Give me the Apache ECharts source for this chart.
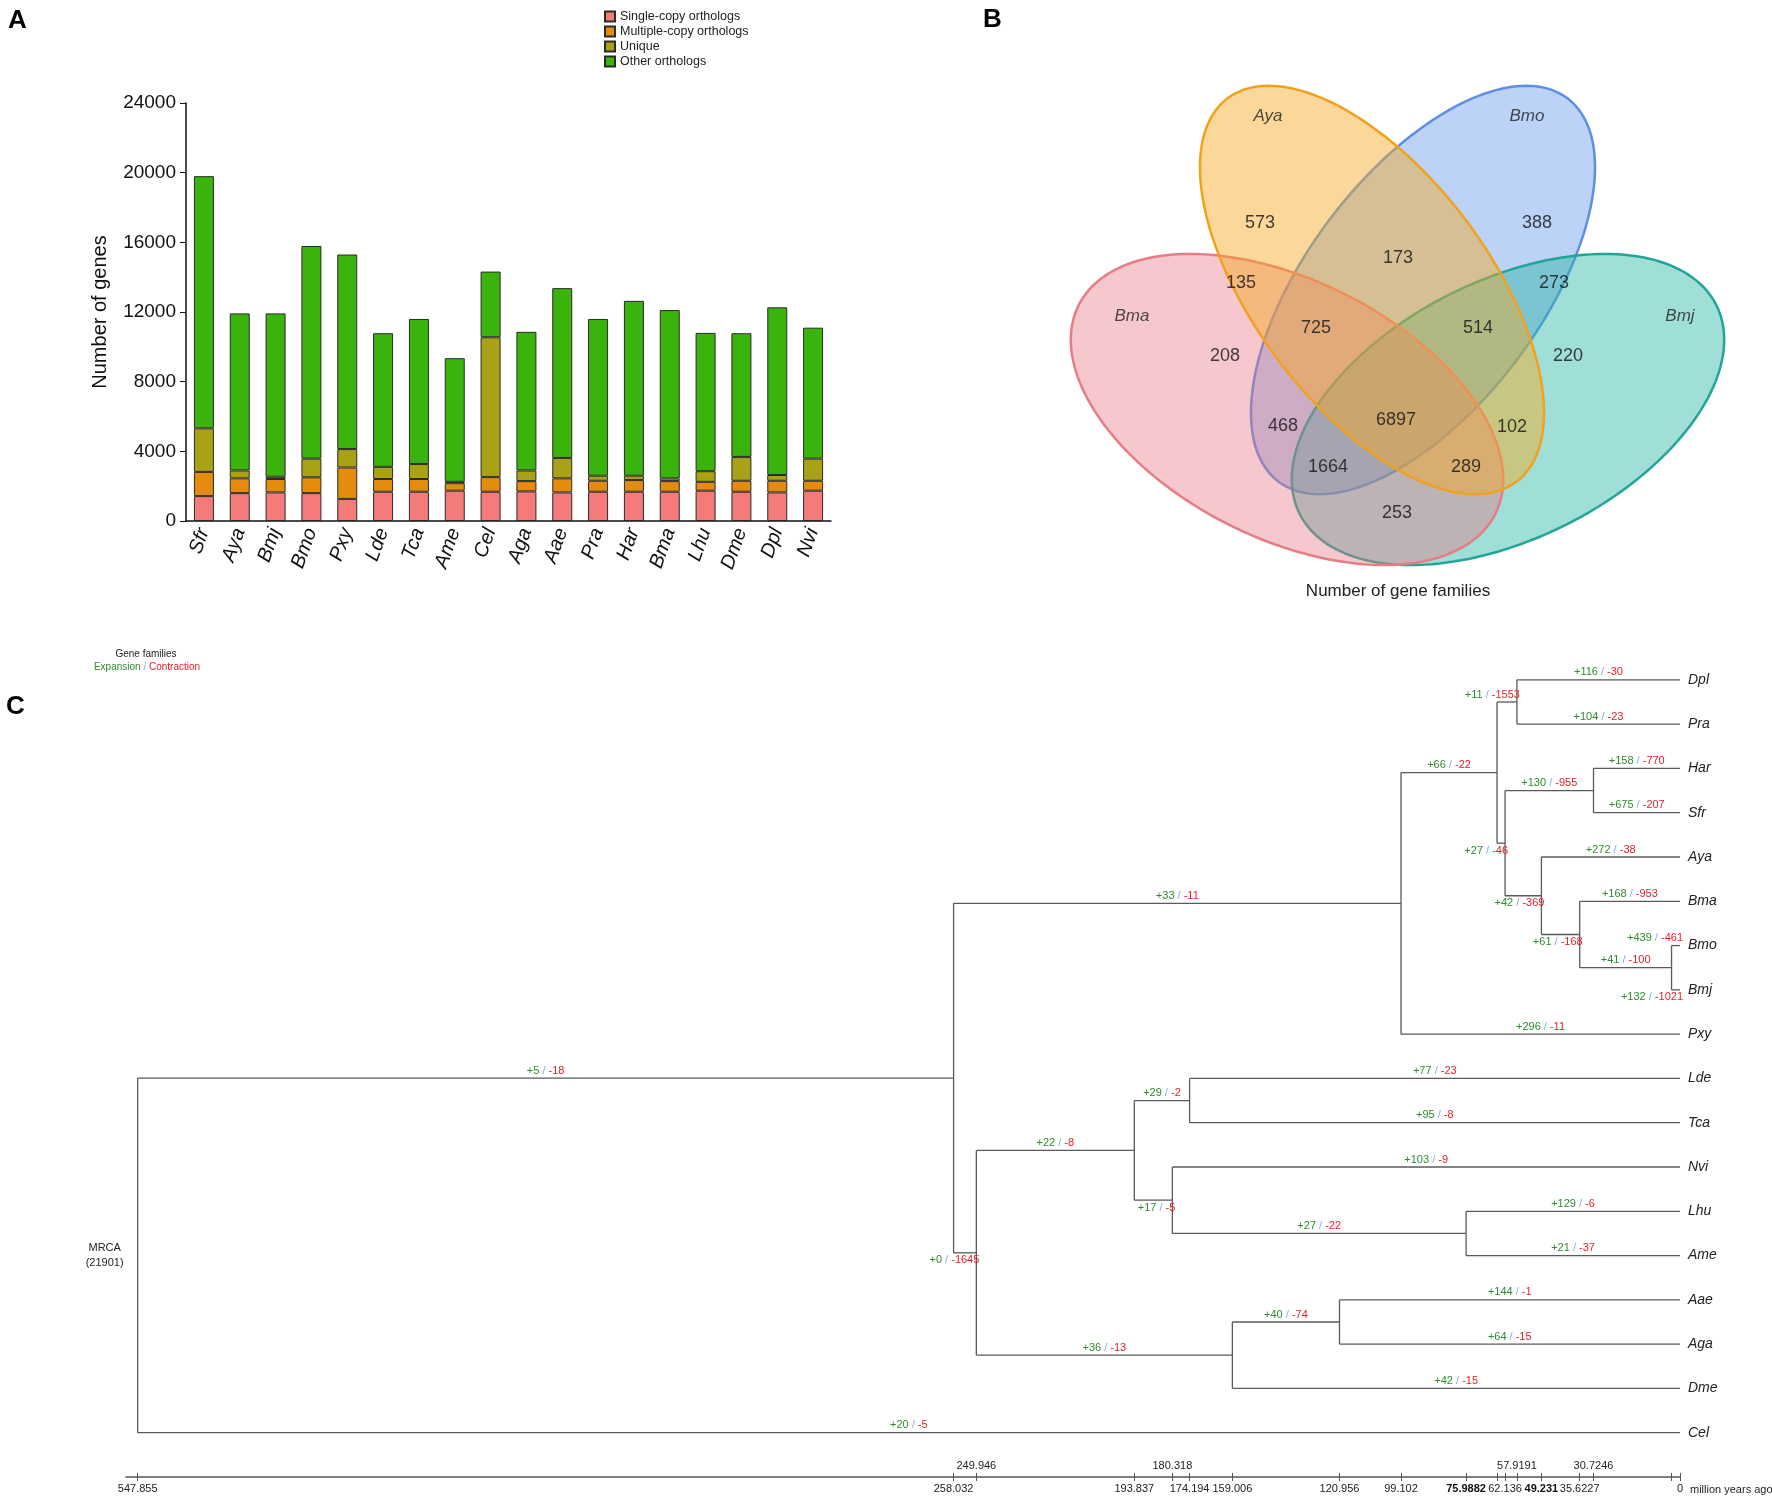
<!DOCTYPE html>
<html><head><meta charset="utf-8">
<script src="https://cdn.jsdelivr.net/npm/echarts@6/dist/echarts.min.js"></script>
<style>html,body{margin:0;padding:0;background:#fff}#c{width:1772px;height:1502px}</style>
</head><body><div id="c"></div><script>
// ---------------- Panel A data ----------------
const species = ['Sfr','Aya','Bmj','Bmo','Pxy','Lde','Tca','Ame','Cel','Aga','Aae','Pra','Har','Bma','Lhu','Dme','Dpl','Nvi'];
const singleCopy   = [1430,1600,1640,1600,1270,1680,1680,1740,1680,1700,1640,1680,1680,1680,1740,1680,1640,1740];
const multipleCopy = [1390,850,770,910,1800,730,730,430,840,590,810,630,670,610,510,630,670,570];
const uniqueGenes  = [2500,450,130,1070,1060,700,860,80,8030,610,1170,290,250,160,610,1370,330,1270];
const otherOrthologs = [14480,9020,9380,12210,11170,7670,8330,7100,3770,7960,9750,9000,10040,9660,7940,7100,9630,7520];
const geneTicks = [0,4000,8000,12000,16000,20000,24000];

// ---------------- Panel B data ----------------
const vennSets = ['Aya','Bmo','Bma','Bmj'];
const vennRegions = ['Aya','Bmo','Aya∩Bmo','Aya∩Bma','Bmo∩Bmj','Aya∩Bmo∩Bma','Aya∩Bmo∩Bmj','Bma','Bmj','Bmo∩Bma','all','Aya∩Bmj','Bmo∩Bma∩Bmj','Aya∩Bma∩Bmj','Bma∩Bmj'];
const vennCounts  = [573,388,173,135,273,725,514,208,220,468,6897,102,1664,289,253];

// ---------------- Panel C data ----------------
const treeNodes   = ['MRCA','N1','N2','N4','DplPra','Dpl','Pra','N5','HarSfr','Har','Sfr','AyaN','Aya','BmaN','Bma','BmoBmj','Bmo','Bmj','Pxy','N3','Nlt','LdeTca','Lde','Tca','NviN','Nvi','LhuAme','Lhu','Ame','Ndip','AaeAga','Aae','Aga','Dme','Cel'];
const treeParents = [null,'MRCA','N1','N2','N4','DplPra','DplPra','N4','N5','HarSfr','HarSfr','N5','AyaN','AyaN','BmaN','BmaN','BmoBmj','BmoBmj','N2','N1','N3','Nlt','LdeTca','LdeTca','Nlt','NviN','NviN','LhuAme','LhuAme','N3','Ndip','AaeAga','AaeAga','Ndip','MRCA'];
const treeAges    = [547.855,258.032,99.102,65.0,57.9191,0,0,62.136,30.7246,0,0,49.231,0,35.6227,0,3.0,0,0,0,249.946,193.837,174.194,0,0,180.318,0,75.9882,0,0,159.006,120.956,0,0,0,0];
const treeExpansion   = [null,5,33,66,11,116,104,27,130,158,675,42,272,61,168,41,439,132,296,0,22,29,77,95,17,103,27,129,21,36,40,144,64,42,20];
const treeContraction = [null,18,11,22,1553,30,23,46,955,770,207,369,38,168,953,100,461,1021,11,1645,8,2,23,8,5,9,22,6,37,13,74,1,15,15,5];
const mrcaFamilies = 21901;
const timeLabelsBelow = [547.855,258.032,193.837,174.194,159.006,120.956,99.102,75.9882,62.136,49.231,35.6227,0];
const timeLabelsAbove = [249.946,180.318,57.9191,30.7246];
const timeLabelsBold  = [75.9882,49.231];

// ---------------- layout (geometry only) ----------------
const FONT = "'Liberation Sans', Arial, sans-serif";
const barColors = ['#F47B79','#E58C0E','#AAA216','#3AB30C'];
const vennEllipses = [ // cx, cy, semi-major, semi-minor, tilt(deg), fill, stroke
  [423,290,240,117,-53,'rgba(106,155,234,0.45)','#5E8FE3'],
  [508,409.5,233,129,-26.6,'rgba(45,181,168,0.45)','#22A596'],
  [287,409.5,233,129,26.6,'rgba(232,116,127,0.40)','#E67C86'],
  [372,290,240,117,53,'rgba(247,168,28,0.45)','#F0A21E']
];
const vennLabelPos = [[260,223],[537,223],[398,258],[241,283],[554,283],[316,328],[478,328],[225,356],[568,356],[283,426],[396,420],[512,427],[328,467],[466,467],[397,513]];
const vennNamePos = [[268,116],[527,116],[132,316],[680,316]];

// ---------------- tree layout computation ----------------
const childrenOf = {};
treeNodes.forEach((n,i)=>{ const p=treeParents[i]; if(p){ (childrenOf[p]=childrenOf[p]||[]).push(n);} });
const yPos = {}; let leafCounter = 0;
(function place(n){
  const ch = childrenOf[n];
  if(!ch){ yPos[n]=leafCounter++; return; }
  ch.forEach(place);
  yPos[n] = (yPos[ch[0]] + yPos[ch[ch.length-1]])/2;
})('MRCA');
const idxOf = {}; treeNodes.forEach((n,i)=>idxOf[n]=i);
const treeData = treeNodes.map((n,i)=>{
  const p = treeParents[i];
  const ch = childrenOf[n];
  return [treeAges[i], yPos[n], p ? treeAges[idxOf[p]] : treeAges[i],
          ch ? yPos[ch[0]] : yPos[n], ch ? yPos[ch[ch.length-1]] : yPos[n]];
});
const tickAges = Array.from(new Set(treeAges)).sort((a,b)=>b-a);

function renderTree(params, api){
  const i = params.dataIndex;
  const name = treeNodes[i];
  const p  = api.coord([api.value(0), api.value(1)]);
  const pp = api.coord([api.value(2), api.value(1)]);
  const top = api.coord([api.value(0), api.value(3)]);
  const bot = api.coord([api.value(0), api.value(4)]);
  const line = {stroke:'#5a5a5a', lineWidth:1.3};
  const kids = [];
  if (treeParents[i]) {
    kids.push({type:'line', shape:{x1:pp[0],y1:p[1],x2:p[0],y2:p[1]}, style:line});
  }
  if (childrenOf[name]) {
    kids.push({type:'line', shape:{x1:p[0],y1:top[1],x2:p[0],y2:bot[1]}, style:line});
  }
  if (treeParents[i]) {
    const sib = childrenOf[treeParents[i]];
    const upper = sib[0] === name;
    const len = p[0]-pp[0];
    const txt = '{g|+' + treeExpansion[i] + '}{s| / }{r|-' + treeContraction[i] + '}';
    const rich = {g:{fill:'#2E8B2E',fontSize:11,fontFamily:FONT}, s:{fill:'#7FB0DA',fontSize:11,fontFamily:FONT}, r:{fill:'#E3202B',fontSize:11,fontFamily:FONT}};
    let st;
    if (len < 50) {
      st = {x:p[0]+3, y: upper ? p[1]-2 : p[1]+2, align:'right', verticalAlign: upper ? 'bottom':'top'};
    } else {
      st = {x:(p[0]+pp[0])/2, y:p[1]-2, align:'center', verticalAlign:'bottom'};
    }
    kids.push({type:'text', x:st.x, y:st.y, style:{text:txt, rich:rich, align:st.align, verticalAlign:st.verticalAlign, fontSize:11, fontFamily:FONT}});
  } else {
    kids.push({type:'text', x:p[0]-33, y:p[1], style:{text:'MRCA\n(' + mrcaFamilies + ')', align:'center', verticalAlign:'middle', fontSize:11, lineHeight:15, fill:'#222', fontFamily:FONT}});
  }
  if (!childrenOf[name]) {
    kids.push({type:'text', x:p[0]+8, y:p[1], style:{text:name, align:'left', verticalAlign:'middle', fontSize:14, fontStyle:'italic', fill:'#222', fontFamily:FONT}});
  }
  return {type:'group', children:kids};
}

function renderVenn(params, api){
  const e = vennEllipses[params.dataIndex];
  const c = api.coord([api.value(0), api.value(1)]);
  const s = api.size([1,1]);
  const a = api.value(2)*s[0], b = api.value(3)*s[0];
  const th = api.value(4)*Math.PI/180;
  const pts = [];
  for (let k=0;k<180;k++){
    const t = k/180*2*Math.PI;
    const lx = a*Math.cos(t), ly = b*Math.sin(t);
    pts.push([c[0] + lx*Math.cos(th) - ly*Math.sin(th), c[1] + lx*Math.sin(th) + ly*Math.cos(th)]);
  }
  return {type:'polygon', shape:{points:pts}, style:{fill:e[5], stroke:e[6], lineWidth:2.5}};
}

const barNames = ['Single-copy orthologs','Multiple-copy orthologs','Unique','Other orthologs'];
const barSeriesData = [singleCopy, multipleCopy, uniqueGenes, otherOrthologs];

const timeFmt = v => {
  const s = String(v);
  return timeLabelsBold.indexOf(v) >= 0 ? '{b|' + s + '}' : s;
};

const chart = echarts.init(document.getElementById('c'), null, {renderer:'canvas'});
chart.setOption({
  animation:false,
  backgroundColor:'#fff',
  textStyle:{fontFamily:FONT},
  legend:{
    data:barNames, orient:'vertical', left:599, top:5, itemWidth:10, itemHeight:10, itemGap:2,
    icon:'rect', textStyle:{fontSize:12.5, color:'#222', fontFamily:FONT, lineHeight:13}
  },
  grid:[
    {left:186, top:103, width:645, height:418},
    {left:1000, top:0, width:772, height:620},
    {left:126, top:671, width:1554, height:806}
  ],
  xAxis:[
    {gridIndex:0, type:'category', data:species,
     axisLine:{lineStyle:{color:'#111', width:1.5}}, axisTick:{length:5, lineStyle:{color:'#111'}},
     axisLabel:{rotate:70, fontStyle:'italic', fontSize:20, color:'#111', margin:8, fontFamily:FONT}},
    {gridIndex:1, type:'value', min:0, max:772, show:false},
    {gridIndex:2, type:'value', min:0, max:552, inverse:true, position:'bottom',
     axisLine:{onZero:false, lineStyle:{color:'#555', width:1.5}},
     axisTick:{show:true, customValues:tickAges, length:4, lineStyle:{color:'#555'}},
     axisLabel:{customValues:timeLabelsBelow, fontSize:11, color:'#222', margin:6, formatter:timeFmt,
                rich:{b:{fontWeight:'bold', fontSize:11, color:'#111'}}},
     splitLine:{show:false}},
    {gridIndex:2, type:'value', min:0, max:552, inverse:true, position:'bottom',
     axisLine:{show:false, onZero:false},
     axisTick:{show:true, customValues:tickAges, inside:true, length:4, lineStyle:{color:'#555'}},
     axisLabel:{inside:true, customValues:timeLabelsAbove, fontSize:11, color:'#222', margin:6, formatter:timeFmt},
     splitLine:{show:false}}
  ],
  yAxis:[
    {gridIndex:0, type:'value', min:0, max:24000, interval:4000,
     axisLine:{show:true, lineStyle:{color:'#111', width:1.5}}, axisTick:{show:true, length:6, lineStyle:{color:'#111'}},
     splitLine:{show:false},
     axisLabel:{fontSize:19, color:'#111', margin:10, fontFamily:FONT,
                customValues:geneTicks, formatter:v=>String(v)},
     name:'Number of genes', nameLocation:'middle', nameGap:76,
     nameTextStyle:{fontSize:20, color:'#111', fontFamily:FONT}},
    {gridIndex:1, type:'value', min:0, max:620, inverse:true, show:false},
    {gridIndex:2, type:'value', min:-0.2, max:18, inverse:true, show:false}
  ],
  series:[
    ...barNames.map((n,k)=>({
      name:n, type:'bar', stack:'genes', xAxisIndex:0, yAxisIndex:0, barWidth:20,
      data:barSeriesData[k],
      itemStyle:{color:barColors[k], borderColor:'#2a2a2a', borderWidth:1}
    })),
    {type:'custom', xAxisIndex:1, yAxisIndex:1, renderItem:renderVenn, z:2,
     data:vennEllipses.map(e=>[e[0],e[1],e[2],e[3],e[4]]), silent:true},
    {type:'scatter', xAxisIndex:1, yAxisIndex:1, symbolSize:0, z:5, silent:true,
     data:vennCounts.map((c,i)=>[vennLabelPos[i][0], vennLabelPos[i][1], c]),
     label:{show:true, position:'inside', formatter:p=>p.value[2], fontSize:18, color:'#111', fontFamily:FONT}},
    {type:'scatter', xAxisIndex:1, yAxisIndex:1, symbolSize:0, z:5, silent:true,
     data:vennSets.map((s,i)=>[vennNamePos[i][0], vennNamePos[i][1], s]),
     label:{show:true, position:'inside', formatter:p=>p.value[2], fontSize:17, fontStyle:'italic', color:'#222', fontFamily:FONT}},
    {type:'custom', xAxisIndex:2, yAxisIndex:2, renderItem:renderTree, data:treeData, silent:true, clip:false}
  ],
  graphic:[
    {type:'text', left:8, top:8, style:{text:'A', fontSize:26, fontWeight:'bold', fill:'#000', fontFamily:FONT}},
    {type:'text', left:983, top:7, style:{text:'B', fontSize:26, fontWeight:'bold', fill:'#000', fontFamily:FONT}},
    {type:'text', left:6, top:694, style:{text:'C', fontSize:26, fontWeight:'bold', fill:'#000', fontFamily:FONT}},
    {type:'text', x:1398, y:591, style:{text:'Number of gene families', fontSize:17, fill:'#222', align:'center', verticalAlign:'middle', fontFamily:FONT}},
    {type:'text', x:146, y:654, style:{text:'Gene families', fontSize:10, fill:'#222', align:'center', verticalAlign:'middle', fontFamily:FONT}},
    {type:'text', x:147, y:667, style:{text:'{g|Expansion}{s| / }{r|Contraction}', align:'center', verticalAlign:'middle', fontSize:10, fontFamily:FONT,
      rich:{g:{fill:'#2E8B2E',fontSize:10}, s:{fill:'#7FB0DA',fontSize:10}, r:{fill:'#E3202B',fontSize:10}}}},
    {type:'text', x:1690, y:1490, style:{text:'million years ago', fontSize:11, fill:'#222', align:'left', verticalAlign:'middle', fontFamily:FONT}}
  ]
});
</script></body></html>
